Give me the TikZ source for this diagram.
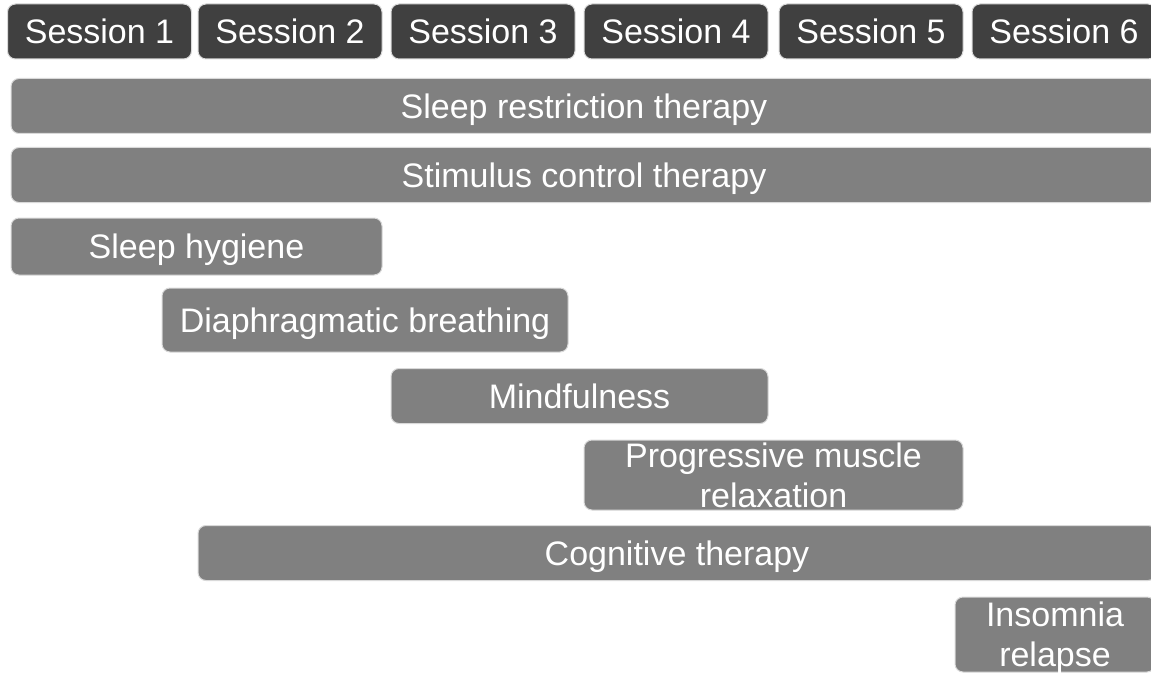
\documentclass[tikz,border=0pt]{standalone}
\usepackage{fontspec}
\setmainfont{Liberation Sans}
\usetikzlibrary{positioning}
\definecolor{sessgray}{HTML}{404040}
\definecolor{bargray}{HTML}{808080}

\begin{document}
\begin{tikzpicture}[x=1pt,y=-1pt,
  box/.style={draw=black!15,line width=1pt,rounded corners=8pt,text=white,
    font=\fontsize{34}{40}\selectfont,align=center,inner sep=0pt,text depth=0pt},
  sess/.style={box,fill=sessgray,minimum width=184pt,minimum height=55pt},
  bar/.style={box,fill=bargray}]
\clip (0,0) rectangle (1151,674);
\node[sess] (s1) at (99.5,31.5) {Session 1};
\node[sess] (s2) at (290,31.5) {Session 2};
\node[sess] (s3) at (483,31.5) {Session 3};
\node[sess] (s4) at (676,31.5) {Session 4};
\node[sess] (s5) at (871,31.5) {Session 5};
\node[sess] (s6) at (1064,31.5) {Session 6};
\node[bar,minimum width=1146pt,minimum height=55pt] (srt) at (584,106) {Sleep restriction therapy};
\node[bar,minimum width=1146pt,minimum height=55pt] (sct) at (584,175) {Stimulus control therapy};
\node[bar,minimum width=371pt,minimum height=57pt] (hyg) at (196.5,246.5) {Sleep hygiene};
\node[bar,minimum width=406pt,minimum height=64pt] (dia) at (365,320) {Diaphragmatic breathing};
\node[bar,minimum width=377pt,minimum height=55pt] (mind) at (579.5,396) {Mindfulness};
\node[bar,minimum width=379pt,minimum height=70pt] (pmr) at (773.5,475) {Progressive muscle\\relaxation};
\node[bar,minimum width=958pt,minimum height=55pt] (cog) at (677,553) {Cognitive therapy};
\node[bar,minimum width=200pt,minimum height=75pt] (rel) at (1055,634.5) {Insomnia\\relapse};
\end{tikzpicture}
\end{document}
